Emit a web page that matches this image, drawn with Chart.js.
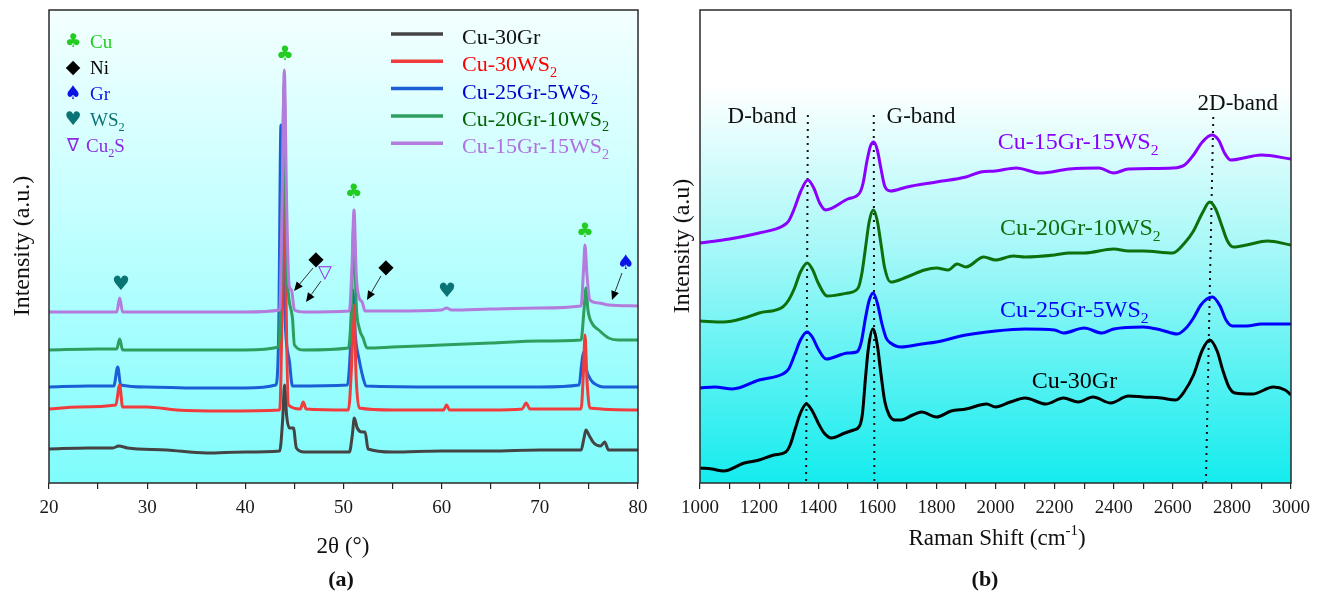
<!DOCTYPE html>
<html>
<head>
<meta charset="utf-8">
<script src="https://cdn.jsdelivr.net/npm/chart.js@4/dist/chart.umd.min.js"></script>
<style>
  body { margin: 0; background: #fff; width: 1327px; height: 592px; overflow: hidden; position: relative; }
  canvas { position: absolute; top: 0; }
  #xrd { left: 0; }
  #raman { left: 660px; }
</style>
</head>
<body>
<canvas id="xrd" width="660" height="592"></canvas>
<canvas id="raman" width="667" height="592"></canvas>
<script>
// ---------- (a) XRD data, 2theta in degrees, intensity in a.u. (stacked offsets) ----------
const thetaCu30Gr = [20, 24, 26.5, 27.1, 28, 32, 36, 40, 43.5, 43.8, 44.0, 44.2, 44.5, 44.9, 45.2, 46, 50.6, 50.9, 51.1, 51.4, 51.9, 52.2, 52.5, 55, 60, 65, 70, 74.2, 74.5, 74.7, 75.0, 75.5, 76.2, 76.6, 77.0, 80];
const intCu30Gr   = [34, 35, 35, 37, 35, 33, 30, 31, 32, 63, 98, 68, 55, 55, 35, 31, 31, 48, 65, 55, 51, 51, 34, 31, 32, 32, 33, 33, 45, 53, 48, 40, 37, 41, 33, 33];

const thetaCu30WS2 = [20, 23, 26.8, 27.2, 27.5, 30, 33, 38, 43.5, 43.75, 43.95, 44.15, 44.4, 45.6, 45.9, 46.2, 50.5, 50.8, 51.05, 51.3, 51.6, 55, 60.2, 60.5, 60.8, 65, 68.2, 68.6, 69, 74.2, 74.45, 74.6, 74.8, 75.1, 80];
const intCu30WS2   = [74, 76, 78, 98, 76, 76, 73, 72, 73, 183, 376, 183, 78, 74, 81, 74, 73, 113, 178, 103, 75, 73, 73, 78, 73, 73, 74, 80, 74, 74, 113, 148, 103, 75, 73];

const thetaCu25Gr5WS2 = [20, 24, 26.6, 27.0, 27.3, 30, 35, 40, 43.1, 43.4, 43.63, 43.85, 44.1, 44.5, 44.8, 50.4, 50.7, 50.95, 51.2, 51.6, 52.0, 52.3, 60, 70, 74.0, 74.25, 74.45, 74.7, 75.2, 75.8, 76.5, 80];
const intCu25Gr5WS2   = [96, 97, 97, 116, 98, 96, 95, 95, 98, 153, 358, 233, 153, 121, 97, 98, 133, 193, 148, 123, 105, 97, 96, 96, 98, 118, 131, 115, 103, 98, 96, 96];

const thetaCu20Gr10WS2 = [20, 25, 26.9, 27.2, 27.5, 30, 35, 40, 43.4, 43.7, 43.95, 44.2, 44.4, 44.8, 45.0, 46, 50.5, 50.8, 51.05, 51.3, 51.6, 52.0, 52.4, 55, 60, 65, 70, 74.2, 74.5, 74.7, 74.9, 75.3, 76, 77, 78, 80];
const intCu20Gr10WS2   = [133, 134, 134, 144, 133, 133, 133, 133, 136, 233, 398, 223, 188, 165, 138, 133, 135, 173, 258, 178, 155, 145, 135, 136, 138, 140, 142, 143, 173, 195, 173, 160, 153, 145, 143, 143];

const thetaCu15Gr15WS2 = [20, 25, 26.9, 27.2, 27.5, 30, 35, 40, 43.5, 43.75, 43.97, 44.2, 44.45, 44.7, 45.0, 46, 50.6, 50.85, 51.07, 51.3, 51.6, 51.9, 52.2, 55, 60, 60.5, 61, 65, 70, 74.2, 74.45, 74.6, 74.8, 75.1, 76, 77, 80];
const intCu15Gr15WS2   = [171, 171, 171, 185, 171, 171, 171, 171, 173, 283, 413, 283, 198, 193, 173, 171, 172, 213, 273, 208, 185, 181, 172, 172, 173, 175, 173, 174, 175, 177, 213, 238, 208, 183, 180, 178, 177];

const xrdTicks = [20, 30, 40, 50, 60, 70, 80];

// phase markers over the XRD peaks
const xrdMarks = [
  { sym: '♣', color: '#22cc22', x: 44.04, y: 428 },
  { sym: '♣', color: '#22cc22', x: 51.05, y: 290 },
  { sym: '♣', color: '#22cc22', x: 74.6, y: 251 },
  { sym: '♥', color: '#0a7373', x: 27.33, y: 198 },
  { sym: '♥', color: '#0a7373', x: 60.54, y: 191 },
  { sym: '◆', color: '#000000', x: 47.2, y: 223 },
  { sym: '◆', color: '#000000', x: 54.33, y: 215 },
  { sym: '▽', color: '#8a2be2', x: 48.11, y: 210 },
  { sym: '♠', color: '#0a14e6', x: 78.78, y: 219 }
];
const xrdArrows = [
  [46.89, 215, 44.96, 192],
  [47.71, 202, 46.18, 181],
  [53.82, 207, 52.39, 183],
  [78.37, 210, 77.35, 183]
];

// ---------- (b) Raman data, shift in cm-1 ----------
const shiftCu30Gr = [1000, 1040, 1080, 1150, 1200, 1250, 1290, 1305, 1320, 1340, 1360, 1380, 1400, 1420, 1445, 1490, 1520, 1540, 1550, 1560, 1570, 1585, 1600, 1612, 1625, 1640, 1660, 1680, 1720, 1750, 1800, 1850, 1900, 1970, 2000, 2050, 2100, 2170, 2230, 2280, 2330, 2390, 2450, 2500, 2560, 2610, 2640, 2670, 2700, 2725, 2750, 2770, 2790, 2810, 2870, 2940, 2980, 3000];
const ramCu30Gr   = [15, 14, 12, 20, 23, 28, 31, 38, 52, 70, 79, 72, 60, 50, 45, 50, 53, 57, 70, 105, 135, 154, 138, 110, 82, 68, 63, 63, 68, 71, 66, 72, 74, 79, 76, 81, 85, 79, 85, 81, 86, 80, 87, 86, 85, 83, 92, 108, 133, 143, 132, 112, 96, 90, 89, 96, 93, 88];

const shiftCu25Gr5WS2 = [1000, 1050, 1110, 1200, 1280, 1300, 1320, 1340, 1362, 1380, 1400, 1427, 1500, 1530, 1545, 1560, 1572, 1586, 1600, 1615, 1630, 1645, 1680, 1750, 1800, 1900, 2000, 2100, 2200, 2230, 2300, 2360, 2400, 2500, 2560, 2615, 2645, 2670, 2695, 2715, 2734, 2760, 2780, 2802, 2850, 2900, 3000];
const ramCu25Gr5WS2   = [95, 96, 94, 103, 109, 114, 128, 143, 151, 146, 134, 124, 130, 131, 140, 165, 182, 190, 180, 160, 145, 140, 136, 139, 141, 148, 152, 154, 153, 150, 155, 150, 154, 156, 153, 149, 155, 165, 178, 184, 186, 177, 163, 157, 157, 159, 159];

const shiftCu20Gr10WS2 = [1000, 1080, 1150, 1200, 1280, 1300, 1320, 1340, 1363, 1380, 1400, 1430, 1500, 1535, 1548, 1560, 1573, 1587, 1600, 1612, 1625, 1645, 1700, 1760, 1800, 1840, 1870, 1900, 1960, 2000, 2060, 2100, 2200, 2250, 2300, 2400, 2450, 2500, 2600, 2640, 2670, 2700, 2725, 2745, 2765, 2785, 2805, 2850, 2920, 3000];
const ramCu20Gr10WS2   = [162, 161, 165, 170, 176, 183, 195, 211, 220, 214, 200, 187, 190, 195, 210, 235, 262, 273, 262, 240, 215, 201, 206, 213, 215, 213, 219, 216, 226, 223, 227, 226, 228, 230, 230, 234, 232, 232, 230, 240, 252, 270, 281, 274, 258, 242, 236, 238, 242, 238];

const shiftCu15Gr15WS2 = [1000, 1100, 1200, 1280, 1300, 1320, 1340, 1365, 1385, 1405, 1425, 1500, 1540, 1552, 1565, 1577, 1588, 1600, 1612, 1625, 1645, 1700, 1800, 1900, 1950, 2000, 2070, 2150, 2250, 2350, 2400, 2450, 2600, 2640, 2670, 2700, 2732, 2755, 2775, 2795, 2900, 3000];
const ramCu15Gr15WS2   = [240, 244, 250, 257, 262, 275, 291, 303, 295, 280, 273, 284, 290, 300, 322, 337, 341, 333, 315, 297, 292, 296, 301, 306, 311, 312, 315, 310, 314, 315, 310, 314, 315, 318, 328, 341, 348, 343, 330, 323, 328, 324];

const ramanTicks = [1000, 1200, 1400, 1600, 1800, 2000, 2200, 2400, 2600, 2800, 3000];

// dotted band guides
const bandNames = ['D-band', 'G-band', '2D-band'];
const bandTop = [[1365, 368], [1588, 368], [2737, 366]];
const bandBottom = [[1359, 0], [1590, 0], [2712, 0]];
const bandLabelPos = [[1210, 368], [1748, 368], [2820, 381]];

const ramanLabels = [
  { text: 'Cu-15Gr-15WS_{2}', color: '#8a00ff', x: 2008, y: 342 },
  { text: 'Cu-20Gr-10WS_{2}', color: '#0d700d', x: 2015, y: 256 },
  { text: 'Cu-25Gr-5WS_{2}', color: '#0000ff', x: 2015, y: 174 },
  { text: 'Cu-30Gr', color: '#000000', x: 2123, y: 103 }
];

const SERIF = '"Liberation Serif", "Times New Roman", serif';
const SYM = '"DejaVu Sans", sans-serif';

function pts(xs, ys) {
  return xs.map((x, i) => ({ x: x, y: ys[i] }));
}

// split "WS_{2}" / "cm^{-1}" into normal, sub and sup parts
function parseRich(s) {
  const parts = [];
  const re = /([_^])\{([^}]*)\}/g;
  let last = 0, m;
  while ((m = re.exec(s)) !== null) {
    if (m.index > last) parts.push([s.slice(last, m.index), '']);
    parts.push([m[2], m[1] === '_' ? 'sub' : 'sup']);
    last = re.lastIndex;
  }
  if (last < s.length) parts.push([s.slice(last), '']);
  return parts;
}

function richText(ctx, s, x, y, size, color, align, bold) {
  const parts = parseRich(s);
  const fontFor = p => (bold ? 'bold ' : '') + (p[1] ? size * 0.65 : size) + 'px ' + SERIF;
  let w = 0;
  parts.forEach(p => { ctx.font = fontFor(p); w += ctx.measureText(p[0]).width; });
  let cx = align === 'center' ? x - w / 2 : (align === 'right' ? x - w : x);
  ctx.save();
  ctx.fillStyle = color;
  ctx.textAlign = 'left';
  ctx.textBaseline = 'alphabetic';
  parts.forEach(p => {
    ctx.font = fontFor(p);
    const dy = p[1] === 'sub' ? size * 0.25 : (p[1] === 'sup' ? -size * 0.42 : 0);
    ctx.fillText(p[0], cx, y + dy);
    cx += ctx.measureText(p[0]).width;
  });
  ctx.restore();
}

function symbol(ctx, sym, x, y, size, color) {
  ctx.save();
  ctx.font = size + 'px ' + SYM;
  ctx.fillStyle = color;
  ctx.textAlign = 'center';
  ctx.textBaseline = 'middle';
  ctx.fillText(sym, x, y);
  ctx.restore();
}

function arrow(ctx, x1, y1, x2, y2) {
  const a = Math.atan2(y2 - y1, x2 - x1);
  const L = 9, W = 4;
  ctx.save();
  ctx.strokeStyle = '#333';
  ctx.fillStyle = '#000';
  ctx.lineWidth = 1;
  ctx.beginPath();
  ctx.moveTo(x1, y1);
  ctx.lineTo(x2 - L * Math.cos(a), y2 - L * Math.sin(a));
  ctx.stroke();
  ctx.beginPath();
  ctx.moveTo(x2, y2);
  ctx.lineTo(x2 - L * Math.cos(a) + W * Math.sin(a), y2 - L * Math.sin(a) - W * Math.cos(a));
  ctx.lineTo(x2 - L * Math.cos(a) - W * Math.sin(a), y2 - L * Math.sin(a) + W * Math.cos(a));
  ctx.closePath();
  ctx.fill();
  ctx.restore();
}

function fillBack(chart, stops) {
  const { ctx, chartArea: a } = chart;
  const g = ctx.createLinearGradient(0, a.top, 0, a.bottom);
  stops.forEach(s => g.addColorStop(s[0], s[1]));
  ctx.save();
  ctx.fillStyle = g;
  ctx.fillRect(a.left, a.top, a.right - a.left, a.bottom - a.top);
  ctx.restore();
}

function frame(chart) {
  const { ctx, chartArea: a } = chart;
  ctx.save();
  ctx.strokeStyle = '#2a2a2a';
  ctx.lineWidth = 1.5;
  ctx.strokeRect(a.left, a.top, a.right - a.left, a.bottom - a.top);
  ctx.restore();
}

function yTitle(ctx, text, cx, cy, size) {
  ctx.save();
  ctx.translate(cx + size * 0.33, cy);
  ctx.rotate(-Math.PI / 2);
  richText(ctx, text, 0, 0, size, '#111', 'center');
  ctx.restore();
}

// ---------- plugins ----------
const xrdLegend = [
  { text: 'Cu-30Gr', line: '#444444', color: '#111111' },
  { text: 'Cu-30WS_{2}', line: '#f03c3c', color: '#ff0000' },
  { text: 'Cu-25Gr-5WS_{2}', line: '#1a5fd6', color: '#0000cc' },
  { text: 'Cu-20Gr-10WS_{2}', line: '#2e9e5e', color: '#006400' },
  { text: 'Cu-15Gr-15WS_{2}', line: '#b27bdc', color: '#b070e0' }
];
const phaseLegend = [
  { sym: '♣', color: '#22cc22', text: 'Cu' },
  { sym: '◆', color: '#000000', text: 'Ni' },
  { sym: '♠', color: '#0a14e6', text: 'Gr' },
  { sym: '♥', color: '#0a7373', text: 'WS_{2}' },
  { sym: '∇', color: '#8a2be2', text: 'Cu_{2}S' }
];

const xrdDecor = {
  id: 'xrdDecor',
  beforeDraw(chart) {
    fillBack(chart, [[0, '#f4ffff'], [0.45, '#c2ffff'], [1, '#7ffcfc']]);
  },
  afterDraw(chart) {
    const ctx = chart.ctx;
    const sx = chart.scales.x, sy = chart.scales.y;
    frame(chart);
    xrdArrows.forEach(a => arrow(ctx, sx.getPixelForValue(a[0]), sy.getPixelForValue(a[1]),
      sx.getPixelForValue(a[2]), sy.getPixelForValue(a[3])));
    xrdMarks.forEach(m => symbol(ctx, m.sym, sx.getPixelForValue(m.x), sy.getPixelForValue(m.y),
      m.sym === '▽' ? 18 : 20, m.color));
    // phase legend
    phaseLegend.forEach((p, i) => {
      const y = 42 + i * 26;
      symbol(ctx, p.sym, 73, y, p.sym === '∇' ? 18 : 19, p.color);
      richText(ctx, p.text, p.sym === '∇' ? 86 : 90, y + 6, 19, p.color, 'left');
    });
    // sample legend
    xrdLegend.forEach((l, i) => {
      const y = 34 + i * 27.3;
      ctx.save();
      ctx.strokeStyle = l.line;
      ctx.lineWidth = 3.5;
      ctx.beginPath();
      ctx.moveTo(391, y);
      ctx.lineTo(443, y);
      ctx.stroke();
      ctx.restore();
      richText(ctx, l.text, 462, y + 10, 22, l.color, 'left');
    });
    yTitle(ctx, 'Intensity (a.u.)', 21, 246, 24);
    richText(ctx, '2θ (°)', 343, 553, 23, '#111', 'center');
    richText(ctx, '(a)', 341, 586, 22, '#111', 'center', true);
  }
};

const ramanDecor = {
  id: 'ramanDecor',
  beforeDraw(chart) {
    fillBack(chart, [[0, '#ffffff'], [0.16, '#ffffff'], [0.5, '#a8f8f8'], [1, '#14ecee']]);
  },
  afterDraw(chart) {
    const ctx = chart.ctx;
    const sx = chart.scales.x, sy = chart.scales.y;
    frame(chart);
    bandNames.forEach((n, i) => {
      richText(ctx, n, sx.getPixelForValue(bandLabelPos[i][0]), sy.getPixelForValue(bandLabelPos[i][1]) + 8,
        23, '#111', 'center');
    });
    ramanLabels.forEach(l => {
      richText(ctx, l.text, sx.getPixelForValue(l.x), sy.getPixelForValue(l.y) + 8, 24, l.color, 'left');
    });
    yTitle(ctx, 'Intensity (a.u)', 21, 246, 24);
    richText(ctx, 'Raman Shift (cm^{-1})', 337, 545, 23, '#111', 'center');
    richText(ctx, '(b)', 325, 586, 22, '#111', 'center', true);
  }
};

// ---------- shared axis setup ----------
function xAxis(min, max, step, labelEvery) {
  return {
    type: 'linear',
    min: min,
    max: max,
    afterFit: s => { s.height = 30; },
    border: { display: false },
    grid: { display: true, drawOnChartArea: false, drawTicks: true, tickLength: 6, color: '#222', lineWidth: 1.2 },
    ticks: {
      stepSize: step,
      autoSkip: false,
      maxRotation: 0,
      padding: 8,
      color: '#1a1a1a',
      font: { family: SERIF, size: 19 },
      callback: v => (v % labelEvery === 0 ? String(v) : '')
    }
  };
}
function hiddenY(width, pos) {
  return {
    position: pos,
    display: true,
    min: 0,
    max: 473,
    afterFit: s => { s.width = width; },
    border: { display: false },
    grid: { display: false },
    ticks: { display: false }
  };
}

Chart.defaults.animation = false;
Chart.defaults.devicePixelRatio = 1;

const lineStyle = (color, order) => ({
  borderColor: color,
  borderWidth: 3,
  pointRadius: 0,
  fill: false,
  cubicInterpolationMode: 'monotone',
  order: order
});

new Chart(document.getElementById('xrd'), {
  type: 'line',
  data: {
    datasets: [
      Object.assign({ label: 'Cu-30Gr', data: pts(thetaCu30Gr, intCu30Gr) }, lineStyle('#444444', 4)),
      Object.assign({ label: 'Cu-30WS2', data: pts(thetaCu30WS2, intCu30WS2) }, lineStyle('#f03c3c', 2)),
      Object.assign({ label: 'Cu-25Gr-5WS2', data: pts(thetaCu25Gr5WS2, intCu25Gr5WS2) }, lineStyle('#1a5fd6', 3)),
      Object.assign({ label: 'Cu-20Gr-10WS2', data: pts(thetaCu20Gr10WS2, intCu20Gr10WS2) }, lineStyle('#2e9e5e', 1)),
      Object.assign({ label: 'Cu-15Gr-15WS2', data: pts(thetaCu15Gr15WS2, intCu15Gr15WS2) }, lineStyle('#b27bdc', 0))
    ]
  },
  options: {
    responsive: false,
    layout: { padding: { left: 0, right: 0, top: 10, bottom: 79 } },
    plugins: { legend: { display: false }, tooltip: { enabled: false } },
    scales: {
      x: xAxis(xrdTicks[0], xrdTicks[xrdTicks.length - 1], 5, 10),
      y: hiddenY(49, 'left'),
      y2: hiddenY(22, 'right')
    }
  },
  plugins: [xrdDecor]
});

const bandSets = bandNames.map((n, i) => ({
  label: n,
  data: [{ x: bandTop[i][0], y: bandTop[i][1] }, { x: bandBottom[i][0], y: bandBottom[i][1] }],
  borderColor: '#111',
  borderWidth: 2,
  borderDash: [2, 5],
  pointRadius: 0,
  fill: false,
  order: 10
}));

new Chart(document.getElementById('raman'), {
  type: 'line',
  data: {
    datasets: [
      Object.assign({ label: 'Cu-30Gr', data: pts(shiftCu30Gr, ramCu30Gr) }, lineStyle('#000000', 3)),
      Object.assign({ label: 'Cu-25Gr-5WS2', data: pts(shiftCu25Gr5WS2, ramCu25Gr5WS2) }, lineStyle('#0000ff', 2)),
      Object.assign({ label: 'Cu-20Gr-10WS2', data: pts(shiftCu20Gr10WS2, ramCu20Gr10WS2) }, lineStyle('#0d700d', 1)),
      Object.assign({ label: 'Cu-15Gr-15WS2', data: pts(shiftCu15Gr15WS2, ramCu15Gr15WS2) }, lineStyle('#8a00ff', 0))
    ].concat(bandSets)
  },
  options: {
    responsive: false,
    layout: { padding: { left: 0, right: 0, top: 10, bottom: 79 } },
    plugins: { legend: { display: false }, tooltip: { enabled: false } },
    scales: {
      x: xAxis(ramanTicks[0], ramanTicks[ramanTicks.length - 1], 100, 200),
      y: hiddenY(40, 'left'),
      y2: hiddenY(36, 'right')
    }
  },
  plugins: [ramanDecor]
});
</script>
</body>
</html>
